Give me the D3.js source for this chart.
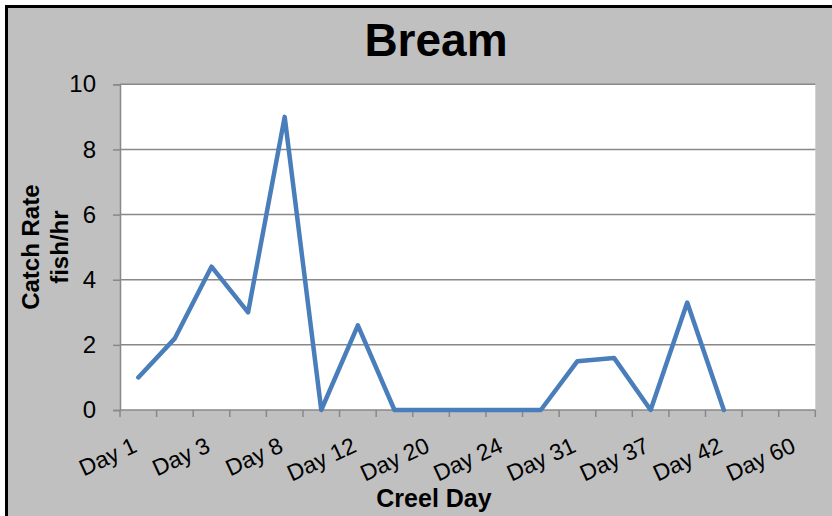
<!DOCTYPE html>
<html lang="en">
<head>
  <meta charset="UTF-8">
  <title>Bream</title>
  <script src="https://d3js.org/d3.v7.min.js"></script>
  <style>
    body { margin: 0; background: #fff; }
    svg { display: block; font-family: "Liberation Sans", Arial, sans-serif; }
  </style>
</head>
<body>
  <div id="chart"></div>
  <script>
    // creel days (only every other one gets a label on the axis)
    const days = ['Day 1', 'Day 2', 'Day 3', 'Day 6', 'Day 8', 'Day 10', 'Day 12', 'Day 17',
      'Day 20', 'Day 22', 'Day 24', 'Day 27', 'Day 31', 'Day 34', 'Day 37', 'Day 39',
      'Day 42', 'Day 50', 'Day 60'];
    // catch rate, fish/hr (null = no value)
    const catchRate = [1, 2.2, 4.4, 3, 9, 0, 2.6, 0, 0, 0, 0, 0, 1.5, 1.6, 0, 3.3, 0, null, null];
    const yTicks = [0, 2, 4, 6, 8, 10];

    const width = 832, height = 516;
    const plot = { left: 120, right: 815.3, top: 84.3, bottom: 410 };

    const svg = d3.select('#chart').append('svg')
      .attr('width', width)
      .attr('height', height);

    // gray chart area with black frame
    svg.append('rect')
      .attr('x', 6.5).attr('y', 6.5)
      .attr('width', 900).attr('height', 600)
      .attr('fill', '#c0c0c0')
      .attr('stroke', '#000')
      .attr('stroke-width', 3);

    const x = d3.scaleBand()
      .domain(days)
      .range([plot.left, plot.right]);

    const y = d3.scaleLinear()
      .domain([0, 10])
      .range([plot.bottom, plot.top]);

    svg.append('rect')
      .attr('x', plot.left).attr('y', plot.top)
      .attr('width', plot.right - plot.left)
      .attr('height', plot.bottom - plot.top)
      .attr('fill', '#fff');

    // gridlines
    svg.append('g')
      .selectAll('line')
      .data(yTicks.filter(d => d > 0))
      .enter().append('line')
      .attr('x1', plot.left).attr('x2', plot.right)
      .attr('y1', d => y(d)).attr('y2', d => y(d))
      .attr('stroke', '#888')
      .attr('stroke-width', 1.5);

    // y axis
    const yAxis = svg.append('g')
      .attr('transform', `translate(${plot.left},0)`)
      .call(d3.axisLeft(y).tickValues(yTicks).tickSize(7).tickPadding(17));
    yAxis.select('.domain').attr('stroke', '#888').attr('stroke-width', 1.5);
    yAxis.selectAll('.tick line').attr('stroke', '#888').attr('stroke-width', 1.5);
    yAxis.selectAll('.tick text')
      .attr('fill', '#000')
      .attr('font-size', 24)
      .attr('font-family', '"Liberation Sans", Arial, sans-serif');

    // x axis: ticks on category boundaries
    const xAxis = svg.append('g')
      .attr('transform', `translate(0,${plot.bottom})`);
    xAxis.append('line')
      .attr('x1', plot.left).attr('x2', plot.right)
      .attr('stroke', '#888').attr('stroke-width', 1.5);
    const bounds = days.map(d => x(d)).concat([x.range()[1]]);
    xAxis.selectAll('.tk')
      .data(bounds)
      .enter().append('line')
      .attr('class', 'tk')
      .attr('x1', d => d).attr('x2', d => d)
      .attr('y1', 0).attr('y2', 7)
      .attr('stroke', '#888').attr('stroke-width', 1.5);
    xAxis.selectAll('.lbl')
      .data(days.filter((d, i) => i % 2 === 0))
      .enter().append('text')
      .attr('class', 'lbl')
      .attr('transform', d => `translate(${x(d) + x.bandwidth() / 2},${41}) rotate(-25)`)
      .attr('text-anchor', 'end')
      .attr('font-size', 23)
      .attr('fill', '#000')
      .text(d => d);

    // the series line
    const line = d3.line()
      .defined(d => d.v !== null)
      .x(d => x(d.day) + x.bandwidth() / 2)
      .y(d => y(d.v));

    svg.append('path')
      .datum(days.map((d, i) => ({ day: d, v: catchRate[i] })))
      .attr('d', line)
      .attr('fill', 'none')
      .attr('stroke', '#4a7ebb')
      .attr('stroke-width', 4.5)
      .attr('stroke-linejoin', 'round')
      .attr('stroke-linecap', 'round');

    // titles
    svg.append('text')
      .attr('x', 436).attr('y', 56)
      .attr('text-anchor', 'middle')
      .attr('font-size', 46)
      .attr('font-weight', 'bold')
      .text('Bream');

    const yTitle = svg.append('text')
      .attr('transform', `translate(39,${(plot.top + plot.bottom) / 2}) rotate(-90)`)
      .attr('text-anchor', 'middle')
      .attr('font-size', 24)
      .attr('font-weight', 'bold');
    yTitle.append('tspan').attr('x', 0).attr('dy', 0).text('Catch Rate');
    yTitle.append('tspan').attr('x', 0).attr('dy', 29).text('fish/hr');

    svg.append('text')
      .attr('x', 434).attr('y', 507)
      .attr('text-anchor', 'middle')
      .attr('font-size', 25)
      .attr('font-weight', 'bold')
      .text('Creel Day');
  </script>
</body>
</html>
